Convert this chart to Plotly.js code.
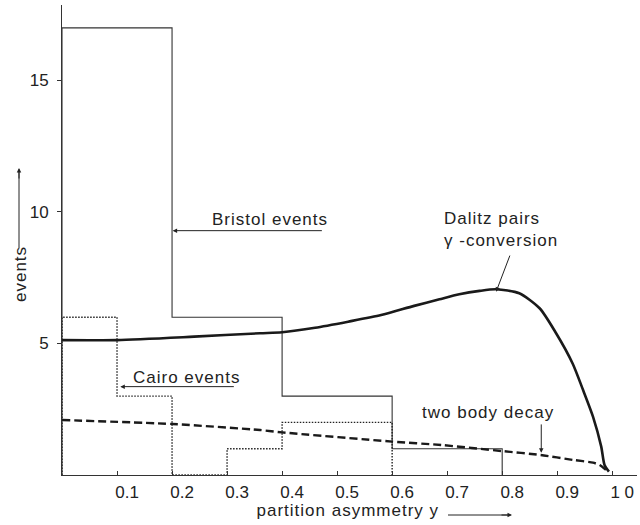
<!DOCTYPE html>
<html>
<head>
<meta charset="utf-8">
<script src="https://cdn.plot.ly/plotly-3.0.1.min.js"></script>
<style>
html,body{margin:0;padding:0;background:#fff;}
#chart{width:640px;height:525px;}
#chart .annotation-text{letter-spacing:1px;}
</style>
</head>
<body>
<div id="chart"></div>
<script>
// Bristol events histogram
const bristolEdges = [0, 0.2, 0.4, 0.6, 0.8];
const bristolCounts = [17, 6, 3, 1];
// Cairo events histogram
const cairoEdges = [0, 0.1, 0.2, 0.3, 0.4, 0.6];
const cairoCounts = [6, 3, 0, 1, 2];
// Dalitz pairs / gamma-conversion curve
const dalitzX = [0, 0.1, 0.24, 0.36, 0.4, 0.46, 0.52, 0.58, 0.64, 0.686, 0.722, 0.759, 0.789, 0.831, 0.868, 0.898, 0.928, 0.947, 0.965, 0.98, 0.986, 0.994];
const dalitzY = [5.13, 5.13, 5.26, 5.39, 5.43, 5.6, 5.83, 6.08, 6.43, 6.68, 6.87, 7.0, 7.06, 6.91, 6.34, 5.39, 4.24, 3.23, 2.22, 1.08, 0.38, 0.13];
// Two body decay curve
const twoBodyX = [0, 0.2, 0.36, 0.4, 0.6, 0.69, 0.8, 0.87, 0.93, 0.965, 0.977, 0.989];
const twoBodyY = [2.09, 1.94, 1.71, 1.62, 1.27, 1.14, 0.91, 0.76, 0.57, 0.47, 0.38, 0.19];
// Axis ticks
const xTickVals = [0.1, 0.2, 0.3, 0.4, 0.5, 0.6, 0.7, 0.8, 0.9, 1.0];
const xTickText = ['0.1', '0.2', '0.3', '0.4', '0.5', '0.6', '0.7', '0.8', '0.9', '1 0'];
const yTickVals = [5, 10, 15];

function outline(edges, counts) {
  const x = [edges[0]], y = [0];
  for (let i = 0; i < counts.length; i++) { x.push(edges[i]); y.push(counts[i]); }
  const last = edges[edges.length - 1];
  x.push(last); y.push(counts[counts.length - 1]);
  x.push(last); y.push(0);
  return {x, y};
}

const b = outline(bristolEdges, bristolCounts);
const c = outline(cairoEdges, cairoCounts);
const ink = '#1a1a1a';
const FONT = {family: 'Liberation Sans, Arial, sans-serif', size: 17, color: '#222'};

const traces = [
  {x: b.x, y: b.y, mode: 'lines', line: {shape: 'hv', color: '#333', width: 1.1}, hoverinfo: 'skip'},
  {x: c.x, y: c.y, mode: 'lines', line: {shape: 'hv', color: '#222', width: 1.4, dash: '1.5px,1.5px'}, hoverinfo: 'skip'},
  {x: dalitzX, y: dalitzY, mode: 'lines', line: {shape: 'spline', smoothing: 0.7, color: ink, width: 2.6}, hoverinfo: 'skip'},
  {x: twoBodyX, y: twoBodyY, mode: 'lines', line: {shape: 'spline', smoothing: 0.6, color: ink, width: 2.4, dash: '8px,4px'}, hoverinfo: 'skip'}
];

function px2x(p) { return (p - 62) / 575; }
function px2y(p) { return (475 - p) / 470; }

const head = {text: '', showarrow: true, arrowhead: 2, arrowsize: 0.9, arrowwidth: 1, arrowcolor: '#222'};

const annotations = [
  {xref: 'x', yref: 'y', x: 0.282, y: 9.73, text: 'Bristol events', showarrow: false, xanchor: 'left', yanchor: 'middle', font: FONT},
  Object.assign({xref: 'x', yref: 'y', axref: 'x', ayref: 'y', x: 0.201, y: 9.29, ax: 0.475, ay: 9.29}, head),
  {xref: 'x', yref: 'y', x: 0.137, y: 3.69, text: 'Cairo events', showarrow: false, xanchor: 'left', yanchor: 'middle', font: FONT},
  Object.assign({xref: 'x', yref: 'y', axref: 'x', ayref: 'y', x: 0.106, y: 3.36, ax: 0.315, ay: 3.36}, head),
  {xref: 'x', yref: 'y', x: 0.691, y: 9.34, text: 'Dalitz pairs<br>γ -conversion', showarrow: false, xanchor: 'left', yanchor: 'middle', align: 'left', font: FONT},
  Object.assign({xref: 'x', yref: 'y', axref: 'x', ayref: 'y', x: 0.789, y: 6.97, ax: 0.815, ay: 8.40}, head),
  {xref: 'x', yref: 'y', x: 0.664, y: 2.36, text: 'two body decay', showarrow: false, xanchor: 'left', yanchor: 'middle', font: FONT},
  Object.assign({xref: 'x', yref: 'y', axref: 'x', ayref: 'y', x: 0.871, y: 0.85, ax: 0.871, ay: 1.98}, head),
  {xref: 'paper', yref: 'paper', x: px2x(20), y: px2y(274), text: 'events', textangle: -90, showarrow: false, xanchor: 'center', yanchor: 'middle', font: FONT},
  Object.assign({xref: 'paper', yref: 'paper', x: px2x(19), y: px2y(168), ax: 0, ay: 12}, head),
  {xref: 'paper', yref: 'paper', x: px2x(265), y: px2y(511), text: 'partition asymmetry y', showarrow: false, xanchor: 'left', yanchor: 'middle', font: FONT},
  Object.assign({xref: 'paper', yref: 'paper', x: px2x(512), y: px2y(515), ax: -12, ay: 0}, head)
];

const shapes = [
  {type: 'line', xref: 'paper', yref: 'paper', x0: px2x(19), x1: px2x(19), y0: px2y(172), y1: px2y(248), line: {color: '#222', width: 1}},
  {type: 'line', xref: 'paper', yref: 'paper', x0: px2x(448), x1: px2x(508), y0: px2y(515), y1: px2y(515), line: {color: '#222', width: 1}}
];

const layout = {
  width: 640, height: 525,
  margin: {l: 62, r: 3, t: 5, b: 50},
  paper_bgcolor: '#fff', plot_bgcolor: '#fff',
  showlegend: false,
  font: FONT,
  xaxis: {
    range: [0, 1.045], showgrid: false, zeroline: false,
    showline: true, linecolor: '#333', linewidth: 1,
    tickmode: 'array', tickvals: xTickVals, ticktext: xTickText,
    ticks: 'inside', ticklen: 4, tickcolor: '#333',
    ticklabelshift: 10, ticklabelstandoff: 2,
    tickfont: FONT, automargin: false, fixedrange: true
  },
  yaxis: {
    range: [0, 17.87], showgrid: false, zeroline: false,
    showline: true, linecolor: '#333', linewidth: 1,
    tickmode: 'array', tickvals: yTickVals,
    ticks: 'outside', ticklen: 4, tickcolor: '#333',
    ticklabelstandoff: 5,
    tickfont: FONT, automargin: false, fixedrange: true
  },
  shapes: shapes,
  annotations: annotations
};

Plotly.newPlot('chart', traces, layout, {displayModeBar: false, staticPlot: true});
</script>
</body>
</html>
